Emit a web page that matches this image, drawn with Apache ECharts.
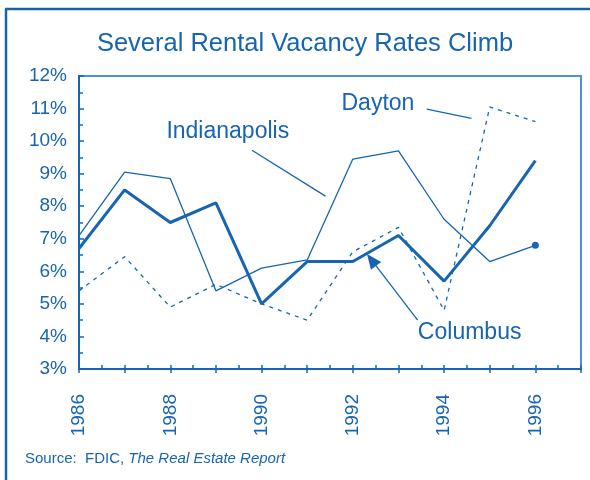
<!DOCTYPE html>
<html>
<head>
<meta charset="utf-8">
<script src="https://cdn.jsdelivr.net/npm/echarts@6/dist/echarts.min.js"></script>
<style>
  html, body { margin: 0; padding: 0; background: #fff; }
  #chart { width: 590px; height: 480px; }
</style>
</head>
<body>
<div id="chart"></div>
<script>
const years = [1986, 1987, 1988, 1989, 1990, 1991, 1992, 1993, 1994, 1995, 1996];
const columbus = [6.7, 8.5, 7.5, 8.1, 5.0, 6.3, 6.3, 7.1, 5.7, 7.4, 9.4];
const indianapolis = [7.1, 9.05, 8.85, 5.4, 6.1, 6.35, 9.45, 9.7, 7.6, 6.3, 6.8];
const dayton = [5.4, 6.45, 4.9, 5.6, 5.0, 4.5, 6.6, 7.35, 4.8, 11.05, 10.6];

const blue = "#1765b2";
const font = "'Liberation Sans', Arial, sans-serif";

const pairs = (vals) => years.map((y, i) => [y, vals[i]]);

const chart = echarts.init(document.getElementById("chart"), null, { renderer: "canvas" });

const leader = { color: blue, width: 1.3, type: "solid" };
const label = (text) => ({
  show: true, position: "inside", formatter: text,
  color: blue, fontSize: 23, fontFamily: font
});

const option = {
  animation: false,
  title: {
    text: "Several Rental Vacancy Rates Climb",
    left: 300, top: 26, textAlign: "center",
    textStyle: { color: blue, fontSize: 25.5, fontWeight: "normal", fontFamily: font }
  },
  grid: {
    left: 79, right: 9, top: 76, bottom: 111,
    show: true, borderColor: "#4f92d2", borderWidth: 2
  },
  xAxis: [
    {
      type: "value", min: 1986, max: 1997, interval: 1,
      axisLine: { lineStyle: { color: blue, width: 2 } },
      axisTick: { show: true, inside: false, length: 4, lineStyle: { color: blue, width: 1.5 } },
      splitLine: { show: false },
      axisLabel: {
        rotate: 90, margin: 25, color: blue, fontSize: 19, fontFamily: font,
        formatter: (v) => (v % 2 === 0 && v < 1997 ? String(v) : "")
      }
    },
    {
      type: "value", min: 1986, max: 1997, interval: 1, position: "bottom",
      axisLine: { show: false },
      axisTick: { show: true, inside: true, length: 4, lineStyle: { color: blue, width: 1.5 } },
      minorTick: { show: true, splitNumber: 2, length: 4, lineStyle: { color: blue, width: 1.5 } },
      splitLine: { show: false },
      axisLabel: { show: false }
    }
  ],
  yAxis: {
    type: "value", min: 3, max: 12, interval: 1,
    axisLine: { show: true, lineStyle: { color: blue, width: 2 } },
    axisTick: { show: true, inside: true, length: 5, lineStyle: { color: blue, width: 1.5 } },
    minorTick: { show: true, splitNumber: 2, length: 4, lineStyle: { color: blue, width: 1.5 } },
    splitLine: { show: false },
    axisLabel: { margin: 12, color: blue, fontSize: 19, fontFamily: font, formatter: "{value}%" }
  },
  series: [
    {
      name: "Indianapolis", type: "line", data: pairs(indianapolis),
      lineStyle: { color: blue, width: 1.3 },
      symbol: "circle", symbolSize: (v, p) => (p.dataIndex === years.length - 1 ? 7 : 0),
      itemStyle: { color: blue },
      markLine: {
        silent: true, symbol: ["none", "none"], label: { show: false }, lineStyle: leader,
        data: [[{ coord: [1989.79, 9.72] }, { coord: [1991.4, 8.31] }]]
      },
      markPoint: {
        silent: true, symbol: "rect", symbolSize: 1, itemStyle: { color: "transparent" },
        data: [{ coord: [1989.26, 10.3], label: label("Indianapolis") }]
      }
    },
    {
      name: "Dayton", type: "line", data: pairs(dayton), symbol: "none",
      lineStyle: { color: blue, width: 1.3, type: [4, 5] },
      markLine: {
        silent: true, symbol: ["none", "none"], label: { show: false }, lineStyle: leader,
        data: [[{ coord: [1993.62, 10.98] }, { coord: [1994.6, 10.7] }]]
      },
      markPoint: {
        silent: true, symbol: "rect", symbolSize: 1, itemStyle: { color: "transparent" },
        data: [{ coord: [1992.55, 11.15], label: label("Dayton") }]
      }
    },
    {
      name: "Columbus", type: "line", data: pairs(columbus), symbol: "none",
      lineStyle: { color: blue, width: 3 },
      markLine: {
        silent: true, symbol: ["none", "triangle"], symbolSize: [13, 15],
        label: { show: false }, lineStyle: leader,
        data: [[{ coord: [1993.42, 4.5] }, { coord: [1992.41, 6.35] }]]
      },
      markPoint: {
        silent: true, symbol: "rect", symbolSize: 1, itemStyle: { color: "transparent" },
        data: [{ coord: [1994.56, 4.12], label: label("Columbus") }]
      }
    }
  ],
  graphic: [
    { type: "line", shape: { x1: 6, y1: 9, x2: 6, y2: 480 }, style: { stroke: "#1563ad", lineWidth: 2.5 } },
    { type: "line", shape: { x1: 5, y1: 9, x2: 590, y2: 9 }, style: { stroke: "#1563ad", lineWidth: 2.5 } },
    {
      type: "text", left: 25, top: 451,
      style: {
        text: "{n|Source:  FDIC, }{i|The Real Estate Report}",
        rich: {
          n: { fill: blue, fontSize: 15, fontFamily: font },
          i: { fill: blue, fontSize: 15, fontFamily: font, fontStyle: "italic" }
        }
      }
    }
  ]
};

chart.setOption(option);
</script>
</body>
</html>
